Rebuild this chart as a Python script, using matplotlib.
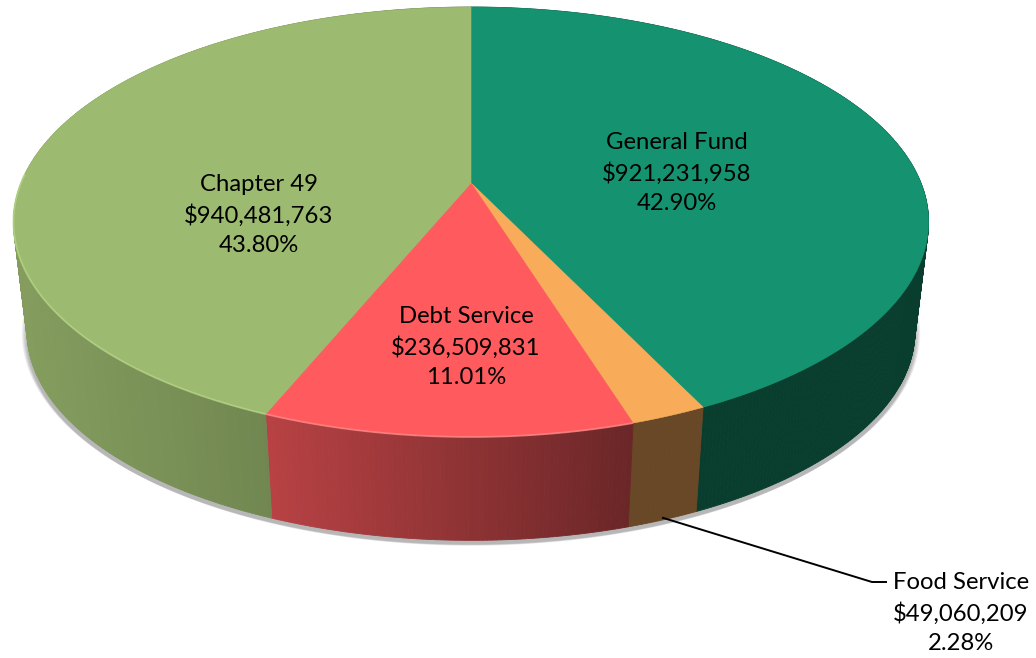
import matplotlib
matplotlib.use('Agg')
import matplotlib.pyplot as plt
from matplotlib.patches import Polygon
from matplotlib.colors import to_rgb
import numpy as np

names = ['General Fund', 'Food Service', 'Debt Service', 'Chapter 49']
amounts = [921231958, 49060209, 236509831, 940481763]
colors = ['#159370', '#F8AC5A', '#FF5B5E', '#9DBB70']
rims = [None, None, '#FF8F8F', '#B9D88A']

# pie is drawn in picture pixels, with a perspective squeeze of the circle
CX = 471
TOP_Y = 183
BOT_Y = 294
PERSP = 0.1814
SX = 450
SY = 207.9
BOT_SCALE = 0.97


def project(theta, apex_y, scale=1.0):
    w = 1 + PERSP * np.cos(theta)
    x = CX + scale * SX * np.sin(theta) / w
    y = apex_y - scale * SY * np.cos(theta) / w
    return x, y


def side_shade(x):
    # side gets darker from left to right, flat after the red slice
    return np.interp(x, [25, 270, 630, 1000], [0.84, 0.72, 0.42, 0.42])


fig = plt.figure(figsize=(10.36, 6.58), dpi=100)
ax = fig.add_axes([0, 0, 1, 1])
ax.set_xlim(0, 1036)
ax.set_ylim(658, 0)
ax.axis('off')

total = sum(amounts)
edges = 2 * np.pi * np.cumsum([0] + amounts) / total

# soft shadow under the pie
full = np.linspace(0, 2 * np.pi, 361)
for k in range(10):
    sx, sy = project(full, BOT_Y + 1 + k * 0.45, BOT_SCALE + 0.0012 * (10 - k))
    ax.fill(sx, sy, color='#404040', alpha=0.045, lw=0, zorder=1)

# side wall, thin strips coloured by position
for i in range(len(amounts)):
    base = np.array(to_rgb(colors[i]))
    steps = max(int(np.degrees(edges[i + 1] - edges[i]) * 2), 2)
    th = np.linspace(edges[i], edges[i + 1], steps + 1)
    for a, b in zip(th[:-1], th[1:]):
        x1, y1 = project(a, TOP_Y)
        x2, y2 = project(b, TOP_Y)
        x3, y3 = project(b, BOT_Y, BOT_SCALE)
        x4, y4 = project(a, BOT_Y, BOT_SCALE)
        c = base * side_shade((x1 + x2 + x3 + x4) / 4)
        ax.add_patch(Polygon([(x1, y1), (x2, y2), (x3, y3), (x4, y4)], closed=True,
                             fc=c, ec=c, lw=0.6, zorder=2))

# top face
for i in range(len(amounts)):
    th = np.linspace(edges[i], edges[i + 1], 300)
    x, y = project(th, TOP_Y)
    pts = np.column_stack([np.r_[CX, x], np.r_[TOP_Y, y]])
    ax.add_patch(Polygon(pts, closed=True, fc=colors[i], ec=colors[i], lw=0.4, zorder=3))
    if rims[i]:
        # lighter bevel only on the front part, where the slice meets the wall
        front = np.cos(th) < 0.05
        ax.plot(x[front], y[front], color=rims[i], lw=1.3, alpha=0.7, zorder=4,
                solid_capstyle='butt')

# labels
font = ['Lato', 'DejaVu Sans']
label_x = [677, 961, 466, 259]
label_y = [173, 613, 347, 215]
for i in range(len(amounts)):
    txt = '%s\n$%s\n%.2f%%' % (names[i], format(amounts[i], ','), 100 * amounts[i] / total)
    ax.text(label_x[i], label_y[i], txt, ha='center', va='center', fontsize=17.2,
            family=font, color='black', linespacing=1.5, zorder=6)

# leader line for the small slice
mid = (edges[1] + edges[2]) / 2
lx, ly = project(mid, BOT_Y, BOT_SCALE)
ax.plot([lx, 872, 886], [ly - 2, 582, 582], color='black', lw=1.4, zorder=5)

fig.savefig('out.png', dpi=100)
